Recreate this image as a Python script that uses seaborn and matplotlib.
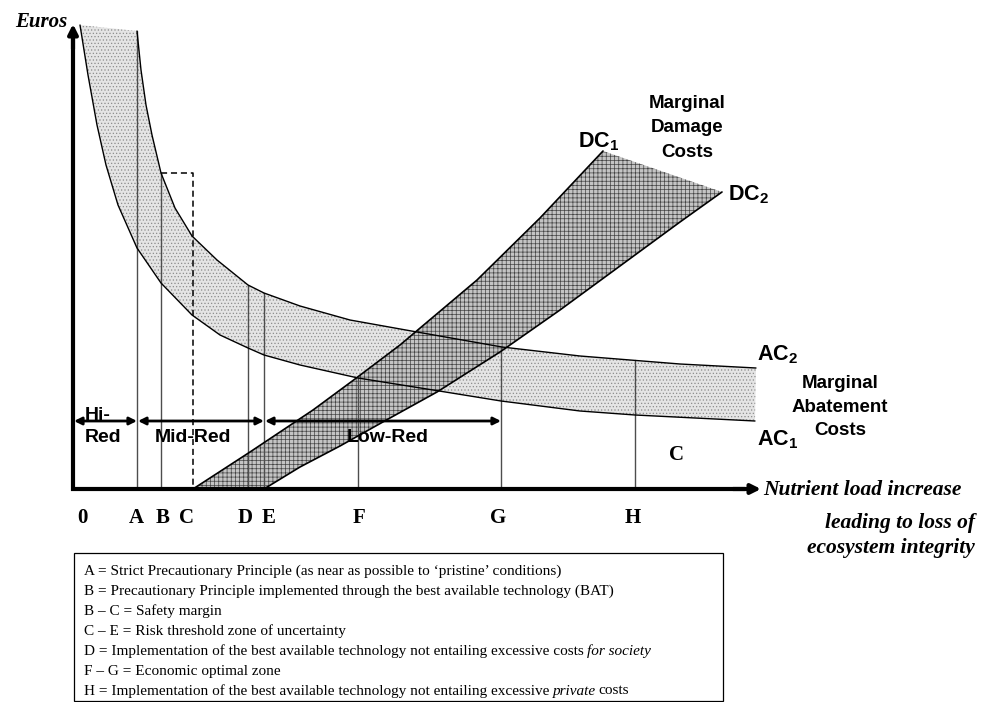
import matplotlib.pyplot as plt
import seaborn as sns

sns.set_theme(style='white')
plt.rcParams['font.family'] = ['Liberation Sans', 'DejaVu Sans']
plt.rcParams['text.color'] = 'black'
plt.rcParams['mathtext.fontset'] = 'custom'
plt.rcParams['mathtext.rm'] = 'Liberation Sans'
plt.rcParams['mathtext.bf'] = 'Liberation Sans:bold'
plt.rcParams['hatch.linewidth'] = 0.5

# marginal abatement costs, lower (AC1) and upper (AC2) bound
ac1_x = [7, 15, 24, 33, 45, 64, 88, 119, 147, 175, 191, 227, 285, 360, 428, 507, 562, 682]
ac1_y = [464, 414, 364, 324, 284, 241, 206, 174, 154, 141, 134, 124, 111, 99, 88, 78, 74, 68]
ac2_x = [64, 68, 73, 79, 88, 102, 119, 144, 175, 191, 227, 277, 344, 429, 507, 607, 683]
ac2_y = [458, 419, 384, 354, 316, 281, 253, 229, 204, 196, 183, 169, 157, 142, 133, 125, 121]

# marginal damage costs, steep (DC1) and shallow (DC2) bound
dc1_x = [120, 177, 240, 282, 327, 404, 467, 530]
dc1_y = [0, 37, 79, 110, 144, 209, 271, 338]
dc2_x = [191, 227, 267, 317, 364, 427, 487, 547, 607, 649]
dc2_y = [0, 22, 43, 71, 97, 137, 179, 223, 267, 297]

# reference points on the load axis and where their lines stop
mark_x = [64, 88, 175, 191, 285, 428, 562]
mark_top = [458, 316, 204, 196, 111, 142, 129]
c_x, c_top = 120, 316
tick_labels = ['0', 'A', 'B', 'C', 'D', 'E', 'F', 'G', 'H']
tick_x = [9, 63, 90, 114, 172, 196, 286, 425, 560]

# reduction zones
zones = ['Hi-Red', 'Mid-Red', 'Low-Red']
zone_start = [0, 64, 191]
zone_end = [64, 191, 428]

notes = [
    [('A = Strict Precautionary Principle (as near as possible to \u2018pristine\u2019 conditions)', 'normal')],
    [('B = Precautionary Principle implemented through the best available technology (BAT)', 'normal')],
    [('B \u2013 C = Safety margin', 'normal')],
    [('C \u2013 E = Risk threshold zone of uncertainty', 'normal')],
    [('D = Implementation of the best available technology not entailing excessive costs', 'normal'),
     ('for society', 'italic')],
    [('F \u2013 G = Economic optimal zone', 'normal')],
    [('H = Implementation of the best available technology not entailing excessive', 'normal'),
     ('private', 'italic'), ('costs', 'normal')],
]

fig = plt.figure(figsize=(9.82, 7.02), dpi=100)
ax = fig.add_axes([0, 0, 1, 1])
ax.set_xlim(-73, 909)
ax.set_ylim(-213, 489)
ax.axis('off')

serif = ['Liberation Serif', 'DejaVu Serif']

# bands
ax.fill(ac1_x + ac2_x[::-1], ac1_y + ac2_y[::-1], facecolor='#e4e4e4',
        edgecolor='#8c8c8c', hatch='.....', lw=0, zorder=1)
ax.fill(dc1_x + dc2_x[::-1], dc1_y + dc2_y[::-1], facecolor='#c4c4c4',
        edgecolor='#444444', hatch='++++', lw=0, zorder=2)

for xs, ys, lw in [(ac1_x, ac1_y, 1.0), (ac2_x, ac2_y, 1.0),
                   (dc1_x, dc1_y, 1.2), (dc2_x, dc2_y, 1.2)]:
    sns.lineplot(x=xs, y=ys, estimator=None, sort=False, color='black',
                 lw=lw, ax=ax, zorder=4)

# vertical reference lines
for x, top in zip(mark_x, mark_top):
    ax.plot([x, x], [0, top], color='#4d4d4d', lw=1.0, zorder=3)
ax.plot([mark_x[1], c_x, c_x], [c_top, c_top, 0], color='black', lw=1.1,
        ls=(0, (4, 2.5)), zorder=3)

# axes arrows
ax.plot([0, 0, 670], [452, 0, 0], color='black', lw=3, solid_capstyle='projecting',
        solid_joinstyle='miter', zorder=6)
ax.annotate('', xy=(0, 465), xytext=(0, 440), zorder=6,
            arrowprops=dict(arrowstyle='-|>', color='black', lw=3,
                            mutation_scale=14, shrinkA=0, shrinkB=0))
ax.annotate('', xy=(688, 0), xytext=(660, 0), zorder=6,
            arrowprops=dict(arrowstyle='-|>', color='black', lw=3,
                            mutation_scale=14, shrinkA=0, shrinkB=0))

# zone arrows
for x0, x1 in zip(zone_start, zone_end):
    ax.annotate('', xy=(x1, 68), xytext=(x0 + 1, 68), zorder=7,
                arrowprops=dict(arrowstyle='<|-|>', color='black', lw=2,
                                mutation_scale=11, shrinkA=0, shrinkB=0))
ax.text(12, 74, 'Hi-', fontsize=14, fontweight='bold', ha='left', va='center', zorder=8)
ax.text(12, 52, 'Red', fontsize=14, fontweight='bold', ha='left', va='center', zorder=8)
ax.text(120, 51, zones[1], fontsize=14, fontweight='bold', ha='center', va='center', zorder=8)
ax.text(315, 51, zones[2], fontsize=14, fontweight='bold', ha='center', va='center', zorder=8)

# curve labels
ax.text(526, 347, r'DC$_\mathbf{1}$', fontsize=15.5, fontweight='bold', ha='center', va='center')
ax.text(655, 294, r'DC$_\mathbf{2}$', fontsize=15.5, fontweight='bold', ha='left', va='center')
ax.text(684, 134, r'AC$_\mathbf{2}$', fontsize=15.5, fontweight='bold', ha='left', va='center')
ax.text(684, 49, r'AC$_\mathbf{1}$', fontsize=15.5, fontweight='bold', ha='left', va='center')
ax.text(614, 361, 'Marginal\nDamage\nCosts', fontsize=13.5, fontweight='bold',
        ha='center', va='center', linespacing=1.6)
ax.text(767, 82, 'Marginal\nAbatement\nCosts', fontsize=13.5, fontweight='bold',
        ha='center', va='center', linespacing=1.5)
ax.text(604, 34, 'C', fontsize=15, fontweight='bold', family=serif, ha='center', va='center')

# axis titles
ax.text(-6, 467, 'Euros', fontsize=15, fontweight='bold', fontstyle='italic',
        family=serif, ha='right', va='center')
ax.text(690, -1, 'Nutrient load increase', fontsize=15.5, fontweight='bold',
        fontstyle='italic', family=serif, ha='left', va='center')
ax.text(902, -34, 'leading to loss of', fontsize=15.5, fontweight='bold',
        fontstyle='italic', family=serif, ha='right', va='center')
ax.text(902, -59, 'ecosystem integrity', fontsize=15.5, fontweight='bold',
        fontstyle='italic', family=serif, ha='right', va='center')

for lbl, x in zip(tick_labels, tick_x):
    ax.text(x, -29, lbl, fontsize=15, fontweight='bold', family=serif,
            ha='center', va='center')

# explanation box
ax.add_patch(plt.Rectangle((1, -212), 649, 148, facecolor='white',
                           edgecolor='black', lw=0.9, zorder=5))
fig.canvas.draw()
renderer = fig.canvas.get_renderer()
for i, parts in enumerate(notes):
    y = -82 - 20 * i
    cur = 11
    for s, style in parts:
        t = ax.text(cur, y, s, fontsize=11, fontstyle=style, family=serif,
                    ha='left', va='center', zorder=6)
        bb = t.get_window_extent(renderer)
        cur += bb.width + (2.5 if style == 'italic' else 3.5)

fig.savefig('out.png', dpi=100)
